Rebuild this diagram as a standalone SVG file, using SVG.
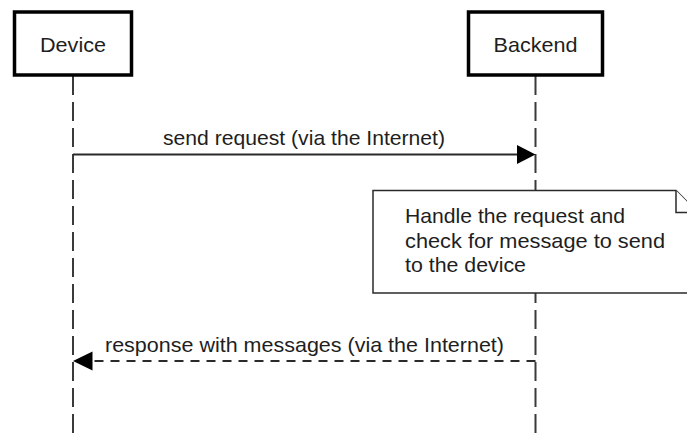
<svg xmlns="http://www.w3.org/2000/svg" width="687" height="437" viewBox="0 0 687 437">
  <defs>
    <style>
      .bg { fill: #ffffff; }
      .lifeline { stroke: #3a3a3a; stroke-width: 2; stroke-dasharray: 19 7; fill: none; }
      .actor { fill: #ffffff; stroke: #000000; stroke-width: 3.5; }
      .label { font-family: "Liberation Sans", Arial, sans-serif; font-size: 21px; fill: #1e1e1e; }
      .msg { stroke: #2a2a2a; stroke-width: 1.8; fill: none; }
      .msg-dashed { stroke-dasharray: 9 7; }
      .head { fill: #000000; stroke: none; }
      .note { fill: #ffffff; stroke: #2a2a2a; stroke-width: 1.5; }
    </style>
  </defs>

  <rect class="bg" x="0" y="0" width="687" height="437"/>

  <!-- lifelines -->
  <g id="lifelines">
    <line class="lifeline" x1="73" y1="76" x2="73" y2="437"/>
    <line class="lifeline" x1="535.5" y1="76" x2="535.5" y2="437"/>
  </g>

  <!-- note on the Backend lifeline -->
  <g id="note-handle-request">
    <path class="note" d="M373,190.5 H676 L698,212.5 V293 H373 Z"/>
    <path class="note" d="M676,190.5 V212.5 H698" fill="none"/>
    <text class="label" x="405" y="223" textLength="220" lengthAdjust="spacingAndGlyphs">Handle the request and</text>
    <text class="label" x="405" y="248" textLength="260" lengthAdjust="spacingAndGlyphs">check for message to send</text>
    <text class="label" x="405" y="272" textLength="121" lengthAdjust="spacingAndGlyphs">to the device</text>
  </g>

  <!-- messages -->
  <g id="connectors">
    <g id="msg-send-request">
      <line class="msg" x1="73" y1="154.5" x2="520" y2="154.5"/>
      <polygon class="head" points="517,145 535.5,154.5 517,164"/>
      <text class="label" x="163" y="145" textLength="282" lengthAdjust="spacingAndGlyphs">send request (via the Internet)</text>
    </g>
    <g id="msg-response">
      <line class="msg msg-dashed" x1="535.5" y1="361" x2="90" y2="361"/>
      <polygon class="head" points="73,361 92.5,351.5 92.5,370.5"/>
      <text class="label" x="105" y="352" textLength="399" lengthAdjust="spacingAndGlyphs">response with messages (via the Internet)</text>
    </g>
  </g>

  <!-- participants -->
  <g id="participant-device">
    <rect class="actor" x="14.5" y="12" width="117" height="63"/>
    <text class="label" x="73" y="52" text-anchor="middle" textLength="66" lengthAdjust="spacingAndGlyphs">Device</text>
  </g>
  <g id="participant-backend">
    <rect class="actor" x="468.5" y="12" width="134" height="63"/>
    <text class="label" x="535.5" y="52" text-anchor="middle" textLength="84" lengthAdjust="spacingAndGlyphs">Backend</text>
  </g>
</svg>
